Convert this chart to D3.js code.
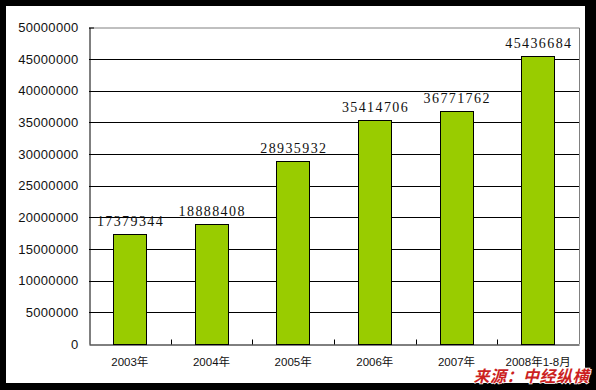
<!DOCTYPE html>
<html>
<head>
<meta charset="utf-8">
<script src="https://cdn.jsdelivr.net/npm/d3@7"></script>
<style>
  html, body { margin: 0; padding: 0; background: #000; }
  svg { display: block; }
</style>
</head>
<body>
<svg id="chart"></svg>
<script>
// data
const categories = ["2003年", "2004年", "2005年", "2006年", "2007年", "2008年1-8月"];
const values = [17379344, 18888408, 28935932, 35414706, 36771762, 45436684];
const yTicks = [0, 5000000, 10000000, 15000000, 20000000, 25000000, 30000000, 35000000, 40000000, 45000000, 50000000];

const width = 596, height = 390;
const plot = { left: 89, right: 579, top: 27.5, bottom: 344 };

const svg = d3.select("#chart")
    .attr("width", width)
    .attr("height", height);

// white card inside the black frame
svg.append("rect")
    .attr("x", 6).attr("y", 6)
    .attr("width", 579).attr("height", 377)
    .attr("fill", "#fff");

const x = d3.scaleBand()
    .domain(categories)
    .range([plot.left, plot.right])
    .paddingInner(0.59)
    .paddingOuter(0.295);

const y = d3.scaleLinear()
    .domain([0, 50000000])
    .range([plot.bottom, plot.top]);

// plot border (gray top / right)
svg.append("path")
    .attr("d", `M${plot.left},${plot.top + 0.5}H${plot.right + 0.5}V${plot.bottom}`)
    .attr("fill", "none")
    .attr("stroke", "#808080")
    .attr("stroke-width", 1);

// gridlines
svg.append("g")
    .selectAll("line")
    .data(yTicks.filter(d => d > 0 && d < 50000000))
    .enter()
    .append("line")
    .attr("x1", plot.left)
    .attr("x2", plot.right)
    .attr("y1", d => Math.round(y(d)) + 0.5)
    .attr("y2", d => Math.round(y(d)) + 0.5)
    .attr("stroke", "#000")
    .attr("stroke-width", 1);

// small black tick at top of y axis
svg.append("line")
    .attr("x1", plot.left).attr("x2", plot.left + 5)
    .attr("y1", plot.top + 0.5).attr("y2", plot.top + 0.5)
    .attr("stroke", "#000");

// bars
svg.append("g")
    .selectAll("rect")
    .data(values)
    .enter()
    .append("rect")
    .attr("x", (d, i) => Math.round(x(categories[i])) + 0.5)
    .attr("y", d => Math.round(y(d)) + 0.5)
    .attr("width", Math.round(x.bandwidth()))
    .attr("height", d => Math.round(y(0)) - Math.round(y(d)))
    .attr("fill", "#99CC00")
    .attr("stroke", "#000")
    .attr("stroke-width", 1);

// value labels
svg.append("g")
    .selectAll("text")
    .data(values)
    .enter()
    .append("text")
    .attr("x", (d, i) => x(categories[i]) + x.bandwidth() / 2 + 0.7)
    .attr("y", d => y(d) - 8)
    .attr("text-anchor", "middle")
    .style("font-family", "'Liberation Serif', serif")
    .style("font-size", "14px")
    .style("letter-spacing", "1.4px")
    .attr("fill", "#111")
    .text(d => d);

// y axis
const yAxis = svg.append("g")
    .attr("transform", `translate(${plot.left + 0.5},0)`)
    .call(d3.axisLeft(y).tickValues(yTicks).tickSize(0).tickPadding(11).tickFormat(d3.format("d")));
yAxis.select(".domain").attr("stroke", "#000");
yAxis.selectAll("text")
    .style("font-family", "'Liberation Sans', Arial, sans-serif")
    .style("font-size", "13px")
    .style("letter-spacing", "0.3px")
    .attr("fill", "#111");

// x axis with inward ticks between categories
const xAxis = svg.append("g")
    .attr("transform", `translate(0,${plot.bottom + 0.5})`)
    .call(d3.axisBottom(x).tickSize(0).tickPadding(13));
xAxis.select(".domain").attr("stroke", "#000");
xAxis.selectAll("text")
    .style("font-family", "'Liberation Sans', 'Noto Sans CJK SC', sans-serif")
    .style("font-size", "11.5px")
    .attr("fill", "#111");

const step = x.step();
xAxis.selectAll(".sep")
    .data(d3.range(1, categories.length))
    .enter()
    .append("line")
    .attr("x1", i => Math.round(plot.left + i * step) + 0.5)
    .attr("x2", i => Math.round(plot.left + i * step) + 0.5)
    .attr("y1", 0)
    .attr("y2", -5)
    .attr("stroke", "#000");

// source watermark
svg.append("text")
    .attr("x", 589)
    .attr("y", 381.5)
    .attr("text-anchor", "end")
    .style("font-family", "'Noto Sans CJK SC', sans-serif")
    .style("font-size", "16px")
    .style("font-weight", "bold")
    .style("font-style", "italic")
    .style("letter-spacing", "0.5px")
    .style("paint-order", "stroke")
    .attr("stroke", "#fff")
    .attr("stroke-width", 1.5)
    .attr("fill", "#cc1f1f")
    .text("来源：中经纵横");
</script>
</body>
</html>
